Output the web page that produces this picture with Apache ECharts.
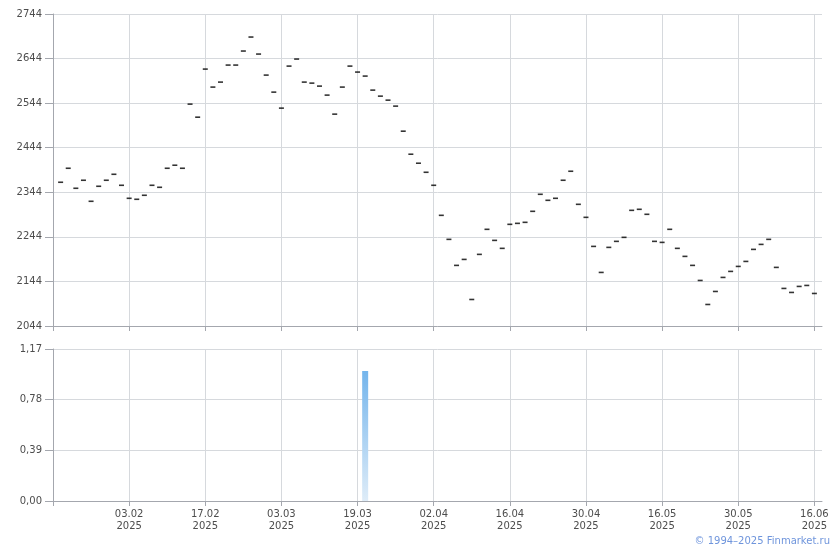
<!DOCTYPE html>
<html>
<head>
<meta charset="utf-8">
<script src="https://cdn.jsdelivr.net/npm/echarts@6/dist/echarts.min.js"></script>
<style>
html,body{margin:0;padding:0;background:#fff;}
#chart{width:840px;height:550px;}
</style>
</head>
<body>
<div id="chart"></div>
<script>
// Trading dates (categories)
const dates = [
  '21.01.2025','22.01.2025','23.01.2025','24.01.2025','27.01.2025','28.01.2025','29.01.2025','30.01.2025','31.01.2025','03.02.2025',
  '04.02.2025','05.02.2025','06.02.2025','07.02.2025','10.02.2025','11.02.2025','12.02.2025','13.02.2025','14.02.2025','17.02.2025',
  '18.02.2025','19.02.2025','20.02.2025','21.02.2025','24.02.2025','25.02.2025','26.02.2025','27.02.2025','28.02.2025','03.03.2025',
  '04.03.2025','05.03.2025','06.03.2025','07.03.2025','12.03.2025','13.03.2025','14.03.2025','17.03.2025','18.03.2025','19.03.2025',
  '20.03.2025','21.03.2025','24.03.2025','25.03.2025','26.03.2025','27.03.2025','28.03.2025','31.03.2025','01.04.2025','02.04.2025',
  '03.04.2025','04.04.2025','07.04.2025','08.04.2025','09.04.2025','10.04.2025','11.04.2025','14.04.2025','15.04.2025','16.04.2025',
  '17.04.2025','18.04.2025','21.04.2025','22.04.2025','23.04.2025','24.04.2025','25.04.2025','28.04.2025','29.04.2025','30.04.2025',
  '02.05.2025','05.05.2025','06.05.2025','07.05.2025','08.05.2025','12.05.2025','13.05.2025','14.05.2025','15.05.2025','16.05.2025',
  '19.05.2025','20.05.2025','21.05.2025','22.05.2025','23.05.2025','26.05.2025','27.05.2025','28.05.2025','29.05.2025','30.05.2025',
  '02.06.2025','03.06.2025','04.06.2025','05.06.2025','06.06.2025','09.06.2025','10.06.2025','11.06.2025','13.06.2025','16.06.2025'
];

// Price values
const prices = [
  2366.5,2397.9,2353.0,2371.0,2323.8,2357.5,2371.0,2384.4,2359.7,2330.5,
  2328.3,2337.3,2359.7,2355.2,2397.9,2404.7,2397.9,2541.8,2512.5,2620.4,
  2580.0,2591.2,2629.4,2629.4,2660.9,2692.3,2654.1,2606.9,2568.7,2532.8,
  2627.1,2642.9,2591.2,2588.9,2582.2,2562.0,2519.3,2580.0,2627.1,2613.7,
  2604.7,2573.2,2559.7,2550.7,2537.3,2481.1,2429.4,2409.2,2388.9,2359.7,
  2292.3,2238.4,2180.0,2193.4,2103.5,2204.7,2260.9,2236.1,2218.2,2272.1,
  2274.3,2276.6,2301.3,2339.5,2326.0,2330.5,2371.0,2391.2,2317.0,2287.8,
  2222.6,2164.2,2220.4,2233.9,2242.9,2303.5,2305.8,2294.6,2233.9,2231.6,
  2260.9,2218.2,2200.2,2180.0,2146.2,2092.3,2121.5,2153.0,2166.5,2177.7,
  2188.9,2215.9,2227.1,2238.4,2175.5,2128.3,2119.3,2132.8,2135.0,2117.0
];

// Volume values (only one non-zero day)
const volumes = [
  0,0,0,0,0,0,0,0,0,0,
  0,0,0,0,0,0,0,0,0,0,
  0,0,0,0,0,0,0,0,0,0,
  0,0,0,0,0,0,0,0,0,0,
  1.0,0,0,0,0,0,0,0,0,0,
  0,0,0,0,0,0,0,0,0,0,
  0,0,0,0,0,0,0,0,0,0,
  0,0,0,0,0,0,0,0,0,0,
  0,0,0,0,0,0,0,0,0,0,
  0,0,0,0,0,0,0,0,0,0
];

// Tick labels
const priceTicks = ['2044', '2144', '2244', '2344', '2444', '2544', '2644', '2744'];
const volumeTicks = ['0,00', '0,39', '0,78', '1,17'];
const copyright = '© 1994–2025 Finmarket.ru';

// padded categories (empty slot at each end)
const cats = [''].concat(dates).concat(['']);
const priceData = ['-'].concat(prices).concat(['-']);
const volData = ['-'].concat(volumes.map(v => v > 0 ? v : '-')).concat(['-']);

const pMin = parseFloat(priceTicks[0]);
const pMax = parseFloat(priceTicks[priceTicks.length - 1]);
const pStep = parseFloat(priceTicks[1]) - pMin;
const volMin = parseFloat(volumeTicks[0].replace(',', '.'));
const volMax = parseFloat(volumeTicks[volumeTicks.length - 1].replace(',', '.'));
const volStep = parseFloat(volumeTicks[1].replace(',', '.')) - volMin;

const FONT = 'DejaVu Sans';
const AXIS = '#a4a7ae';
const GRIDC = '#d6d9dd';
const LABEL = '#4d4d4d';

const showIdx = (i) => i % 10 === 0;

const chart = echarts.init(document.getElementById('chart'), null, {renderer: 'canvas'});
chart.setOption({
  animation: false,
  backgroundColor: '#ffffff',
  grid: [
    {left: 53, right: 18, top: 14, bottom: 224, containLabel: false},
    {left: 53, right: 18, top: 349, bottom: 49, containLabel: false}
  ],
  xAxis: [
    {
      type: 'category', gridIndex: 0, data: cats, boundaryGap: false,
      axisLine: {show: true, lineStyle: {color: AXIS, width: 1}},
      axisTick: {show: true, length: 5, interval: showIdx, lineStyle: {color: AXIS}},
      axisLabel: {show: false},
      splitLine: {show: true, interval: showIdx, lineStyle: {color: GRIDC, width: 1}}
    },
    {
      type: 'category', gridIndex: 1, data: cats, boundaryGap: false,
      axisLine: {show: true, lineStyle: {color: AXIS, width: 1}},
      axisTick: {show: true, length: 5, interval: showIdx, lineStyle: {color: AXIS}},
      axisLabel: {
        show: true, interval: (i) => i % 10 === 0 && i > 0,
        margin: 7, fontFamily: FONT, fontSize: 10, color: LABEL, lineHeight: 12,
        formatter: (v) => v ? v.slice(0, 5) + '\n' + v.slice(6) : ''
      },
      splitLine: {show: true, interval: showIdx, lineStyle: {color: GRIDC, width: 1}}
    }
  ],
  yAxis: [
    {
      type: 'value', gridIndex: 0,
      min: pMin, max: pMax, interval: pStep,
      axisLine: {show: true, lineStyle: {color: AXIS, width: 1}},
      axisTick: {show: true, length: 8, lineStyle: {color: AXIS}},
      axisLabel: {
        margin: 11, fontFamily: FONT, fontSize: 10, color: LABEL,
        formatter: (v) => {
          const i = Math.round((v - pMin) / pStep);
          return priceTicks[i] !== undefined ? priceTicks[i] : '';
        }
      },
      splitLine: {show: true, lineStyle: {color: GRIDC, width: 1}}
    },
    {
      type: 'value', gridIndex: 1,
      min: volMin, max: volMax, interval: volStep,
      axisLine: {show: true, lineStyle: {color: AXIS, width: 1}},
      axisTick: {show: true, length: 8, lineStyle: {color: AXIS}},
      axisLabel: {
        margin: 11, fontFamily: FONT, fontSize: 10, color: LABEL,
        formatter: (v) => {
          const i = Math.round((v - volMin) / volStep);
          return volumeTicks[i] !== undefined ? volumeTicks[i] : '';
        }
      },
      splitLine: {show: true, lineStyle: {color: GRIDC, width: 1}}
    }
  ],
  series: [
    {
      type: 'scatter', xAxisIndex: 0, yAxisIndex: 0,
      data: priceData, symbol: 'rect', symbolSize: [5, 1.6],
      itemStyle: {color: '#000000'}, silent: true
    },
    {
      type: 'bar', xAxisIndex: 1, yAxisIndex: 1,
      data: volData, barWidth: 6, silent: true,
      itemStyle: {
        color: new echarts.graphic.LinearGradient(0, 0, 0, 1, [
          {offset: 0, color: '#74b5ec'},
          {offset: 1, color: '#deecf8'}
        ])
      }
    }
  ],
  graphic: [
    {
      type: 'text', right: 10, top: 536,
      style: {text: copyright, fontFamily: FONT, fontSize: 10, fill: '#6f95dc'}
    }
  ]
});
</script>
</body>
</html>
